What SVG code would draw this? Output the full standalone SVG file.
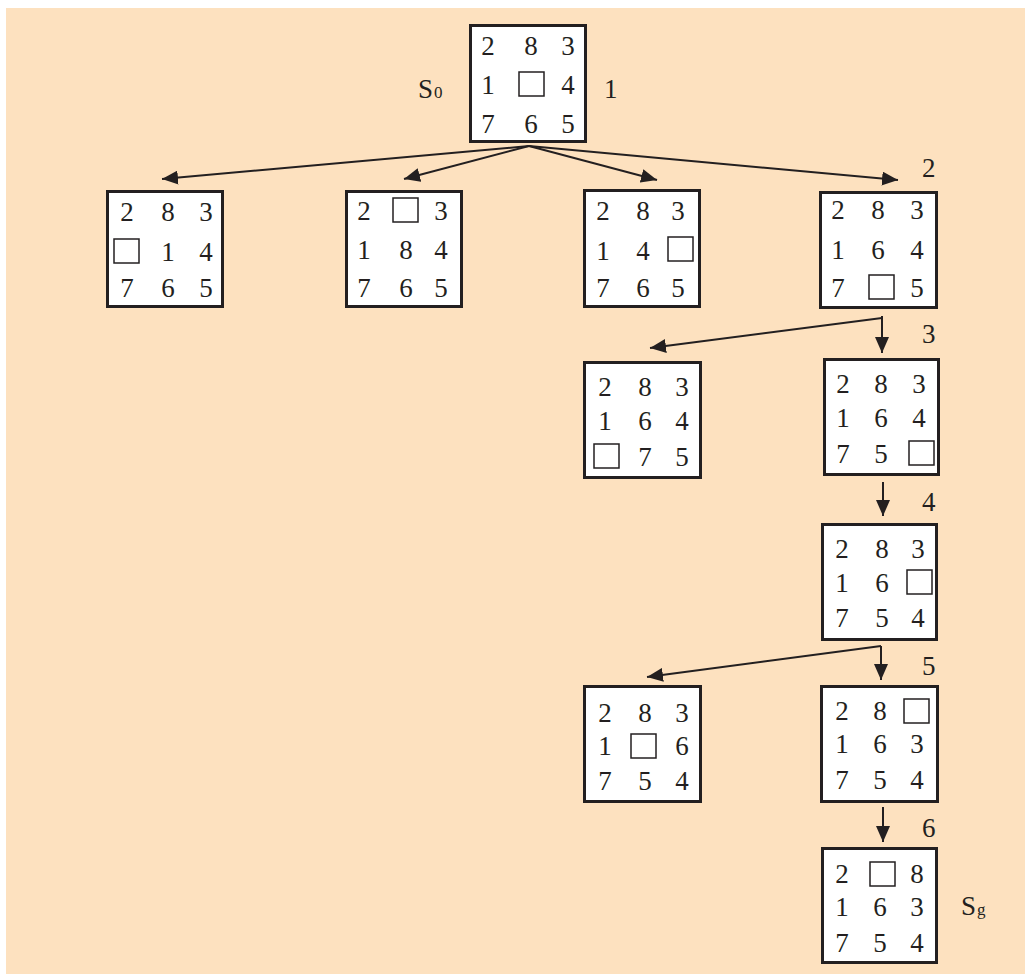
<svg xmlns="http://www.w3.org/2000/svg" width="1025" height="974" viewBox="0 0 1025 974">
<style>
.bg{fill:#FDE1BF}
.box{fill:#ffffff;stroke:#231f20;stroke-width:3}
.blank{fill:#ffffff;stroke:#231f20;stroke-width:1.5}
.d{font-family:"Liberation Serif","Times New Roman",serif;font-size:27px;fill:#231f20;text-anchor:middle}
.lbl{font-family:"Liberation Serif","Times New Roman",serif;font-size:27px;fill:#231f20}
.sub{font-size:17px}
.edge{stroke:#231f20;stroke-width:2;fill:none}
</style>
<defs>
<marker id="ah" viewBox="0 0 16 14" refX="16" refY="7" markerWidth="16" markerHeight="14" markerUnits="userSpaceOnUse" orient="auto">
<path d="M0,0 L16,7 L0,14 Z" fill="#231f20"/>
</marker>
</defs>
<rect class="bg" x="6" y="8" width="1019" height="966"/>

<g id="connectors">
<line class="edge" x1="529" y1="146" x2="162" y2="179" marker-end="url(#ah)"/>
<line class="edge" x1="529" y1="146" x2="404" y2="179" marker-end="url(#ah)"/>
<line class="edge" x1="529" y1="146" x2="657" y2="180" marker-end="url(#ah)"/>
<line class="edge" x1="529" y1="146" x2="898" y2="180" marker-end="url(#ah)"/>
<line class="edge" x1="882" y1="318" x2="650" y2="348" marker-end="url(#ah)"/>
<line class="edge" x1="882" y1="316" x2="882" y2="353" marker-end="url(#ah)"/>
<line class="edge" x1="883" y1="482" x2="883" y2="516" marker-end="url(#ah)"/>
<line class="edge" x1="881" y1="646" x2="647" y2="677" marker-end="url(#ah)"/>
<line class="edge" x1="881" y1="646" x2="881" y2="680" marker-end="url(#ah)"/>
<line class="edge" x1="883" y1="807" x2="883" y2="842" marker-end="url(#ah)"/>
</g>

<g id="n0">
<rect class="box" x="470.5" y="25.5" width="115" height="116"/>
<text class="d" x="488" y="55">2</text><text class="d" x="531" y="55">8</text><text class="d" x="568" y="55">3</text>
<text class="d" x="488" y="94">1</text><rect class="blank" x="519" y="72" width="25" height="24"/><text class="d" x="568" y="94">4</text>
<text class="d" x="488" y="133">7</text><text class="d" x="531" y="133">6</text><text class="d" x="568" y="133">5</text>
<text class="lbl" x="418" y="98">S<tspan class="sub" dx="1">0</tspan></text>
<text class="lbl" x="604" y="98">1</text>
</g>

<g id="n1">
<rect class="box" x="107.5" y="191.5" width="115" height="115"/>
<text class="d" x="127" y="221">2</text><text class="d" x="168" y="221">8</text><text class="d" x="206" y="221">3</text>
<rect class="blank" x="114" y="239" width="25" height="24"/><text class="d" x="168" y="261">1</text><text class="d" x="206" y="261">4</text>
<text class="d" x="127" y="297">7</text><text class="d" x="168" y="297">6</text><text class="d" x="206" y="297">5</text>
</g>

<g id="n2">
<rect class="box" x="346.5" y="191.5" width="115" height="115"/>
<text class="d" x="364" y="220">2</text><rect class="blank" x="393" y="198" width="25" height="24"/><text class="d" x="441" y="220">3</text>
<text class="d" x="364" y="259">1</text><text class="d" x="406" y="259">8</text><text class="d" x="441" y="259">4</text>
<text class="d" x="364" y="297">7</text><text class="d" x="406" y="297">6</text><text class="d" x="441" y="297">5</text>
</g>

<g id="n3">
<rect class="box" x="584.5" y="190.5" width="115" height="116"/>
<text class="d" x="603" y="220">2</text><text class="d" x="643" y="220">8</text><text class="d" x="678" y="220">3</text>
<text class="d" x="603" y="260">1</text><text class="d" x="643" y="260">4</text><rect class="blank" x="668" y="237" width="25" height="24"/>
<text class="d" x="603" y="297">7</text><text class="d" x="643" y="297">6</text><text class="d" x="678" y="297">5</text>
</g>

<g id="n4">
<rect class="box" x="820.5" y="192.5" width="116" height="115"/>
<text class="d" x="838" y="219">2</text><text class="d" x="878" y="219">8</text><text class="d" x="917" y="219">3</text>
<text class="d" x="838" y="259">1</text><text class="d" x="878" y="259">6</text><text class="d" x="917" y="259">4</text>
<text class="d" x="838" y="297">7</text><rect class="blank" x="869" y="275" width="25" height="24"/><text class="d" x="917" y="297">5</text>
<text class="lbl" x="922" y="177">2</text>
</g>

<g id="n5">
<rect class="box" x="584.5" y="362.5" width="116" height="115"/>
<text class="d" x="605" y="396">2</text><text class="d" x="645" y="396">8</text><text class="d" x="682" y="396">3</text>
<text class="d" x="605" y="430">1</text><text class="d" x="645" y="430">6</text><text class="d" x="682" y="430">4</text>
<rect class="blank" x="594" y="444" width="25" height="24"/><text class="d" x="645" y="466">7</text><text class="d" x="682" y="466">5</text>
</g>

<g id="n6">
<rect class="box" x="824.5" y="359.5" width="114" height="115"/>
<text class="d" x="843" y="393">2</text><text class="d" x="881" y="393">8</text><text class="d" x="919" y="393">3</text>
<text class="d" x="843" y="427">1</text><text class="d" x="881" y="427">6</text><text class="d" x="919" y="427">4</text>
<text class="d" x="843" y="463">7</text><text class="d" x="881" y="463">5</text><rect class="blank" x="909" y="441" width="25" height="24"/>
<text class="lbl" x="922" y="343">3</text>
</g>

<g id="n7">
<rect class="box" x="822.5" y="524.5" width="114" height="115"/>
<text class="d" x="842" y="558">2</text><text class="d" x="882" y="558">8</text><text class="d" x="918" y="558">3</text>
<text class="d" x="842" y="592">1</text><text class="d" x="882" y="592">6</text><rect class="blank" x="907" y="570" width="25" height="24"/>
<text class="d" x="842" y="627">7</text><text class="d" x="882" y="627">5</text><text class="d" x="918" y="627">4</text>
<text class="lbl" x="922" y="511">4</text>
</g>

<g id="n8">
<rect class="box" x="584.5" y="686.5" width="116" height="115"/>
<text class="d" x="605" y="722">2</text><text class="d" x="645" y="722">8</text><text class="d" x="682" y="722">3</text>
<text class="d" x="605" y="755">1</text><rect class="blank" x="631" y="734" width="25" height="24"/><text class="d" x="682" y="755">6</text>
<text class="d" x="605" y="790">7</text><text class="d" x="645" y="790">5</text><text class="d" x="682" y="790">4</text>
</g>

<g id="n9">
<rect class="box" x="821.5" y="686.5" width="116" height="115"/>
<text class="d" x="842" y="720">2</text><text class="d" x="880" y="720">8</text><rect class="blank" x="904" y="699" width="25" height="24"/>
<text class="d" x="842" y="753">1</text><text class="d" x="880" y="753">6</text><text class="d" x="917" y="753">3</text>
<text class="d" x="842" y="789">7</text><text class="d" x="880" y="789">5</text><text class="d" x="917" y="789">4</text>
<text class="lbl" x="922" y="675">5</text>
</g>

<g id="n10">
<rect class="box" x="822.5" y="848.5" width="114" height="114"/>
<text class="d" x="842" y="883">2</text><rect class="blank" x="870" y="862" width="25" height="24"/><text class="d" x="917" y="883">8</text>
<text class="d" x="842" y="916">1</text><text class="d" x="880" y="916">6</text><text class="d" x="917" y="916">3</text>
<text class="d" x="842" y="952">7</text><text class="d" x="880" y="952">5</text><text class="d" x="917" y="952">4</text>
<text class="lbl" x="922" y="837">6</text>
<text class="lbl" x="961" y="915">S<tspan class="sub" dx="1">g</tspan></text>
</g>
</svg>
